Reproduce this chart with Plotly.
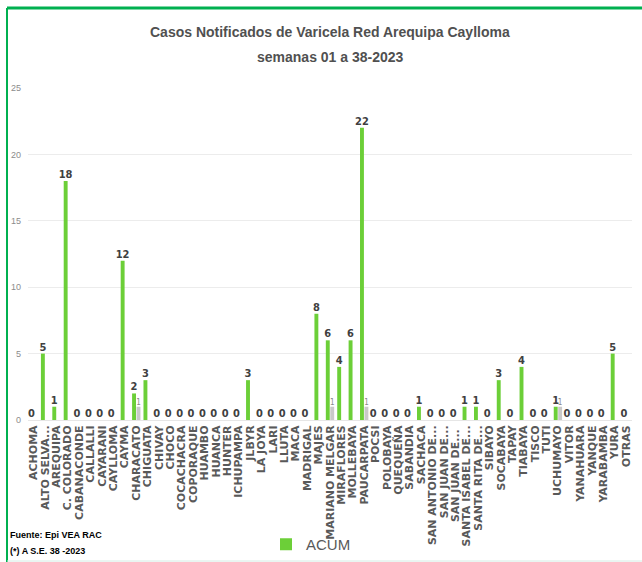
import plotly.graph_objects as go

categories = ["ACHOMA", "ALTO SELVA...", "AREQUIPA", "C. COLORADO", "CABANACONDE", "CALLALLI",
              "CAYARANI", "CAYLLOMA", "CAYMA", "CHARACATO", "CHIGUATA", "CHIVAY", "CHOCO",
              "COCACHACRA", "COPORAQUE", "HUAMBO", "HUANCA", "HUNTER", "ICHUPAMPA", "JLBYR",
              "LA JOYA", "LARI", "LLUTA", "MACA", "MADRIGAL", "MAJES", "MARIANO MELGAR",
              "MIRAFLORES", "MOLLEBAYA", "PAUCARPATA", "POCSI", "POLOBAYA", "QUEQUEÑA",
              "SABANDIA", "SACHACA", "SAN ANTONIO DE...", "SAN JUAN DE...", "SAN JUAN DE... ",
              "SANTA ISABEL DE...", "SANTA RITA DE...", "SIBAYO", "SOCABAYA", "TAPAY", "TIABAYA",
              "TISCO", "TUTI", "UCHUMAYO", "VITOR", "YANAHUARA", "YANQUE", "YARABAMBA", "YURA",
              "OTRAS"]

acum = [0, 5, 1, 18, 0, 0, 0, 0, 12, 2, 3, 0, 0, 0, 0, 0, 0, 0, 0, 3,
        0, 0, 0, 0, 0, 8, 6, 4, 6, 22, 0, 0, 0, 0, 1, 0, 0, 0, 1, 1,
        0, 3, 0, 4, 0, 0, 1, 0, 0, 0, 0, 5, 0]

second_names = ["CHARACATO", "MARIANO MELGAR", "PAUCARPATA", "UCHUMAYO"]
second_vals = [1, 1, 1, 1]
second = [None] * len(categories)
for name, v in zip(second_names, second_vals):
    second[categories.index(name)] = v

y_ticks = [0, 5, 10, 15, 20, 25]

title_line1 = "Casos Notificados de Varicela Red Arequipa Caylloma"
title_line2 = "semanas 01 a 38-2023"

# pixel helpers (plot area: x 28..632, y 88..420 in a 642x562 page)
L, R, T, B = 28, 10, 88, 142
W, H = 642, 562
PW, PH = W - L - R, H - T - B

def px(x):
    return (x - L) / PW

def py(y):
    return (H - B - y) / PH

SANS = "Liberation Sans, Arial, sans-serif"

fig = go.Figure()
fig.add_trace(go.Bar(
    x=categories, y=acum, name="ACUM",
    marker=dict(color="#6ccf38", line=dict(width=0)),
    text=[str(v) for v in acum], textposition="outside", textangle=0,
    constraintext="none",
    textfont=dict(family="DejaVu Sans Condensed", size=11, color="#404040", weight="bold"),
    cliponaxis=False,
))
fig.add_trace(go.Bar(
    x=categories, y=second, name="",
    marker=dict(color="#c9c9c9", line=dict(width=0)),
    text=["" if v is None else str(v) for v in second], textposition="outside", textangle=0,
    constraintext="none",
    textfont=dict(family="DejaVu Sans Condensed", size=8, color="#8a8a8a"),
    cliponaxis=False, showlegend=False,
))

fig.update_layout(
    width=W, height=H,
    margin=dict(l=L, r=R, t=T, b=B, autoexpand=False),
    paper_bgcolor="white", plot_bgcolor="white",
    barmode="group", bargap=0.22, bargroupgap=0.12,
    xaxis=dict(
        tickangle=-90, automargin=False, showgrid=False,
        tickmode="linear", tick0=0, dtick=1,
        showline=True, linecolor="#e6e6e6", linewidth=1, ticks="",
        tickfont=dict(family="DejaVu Sans", size=11, color="#595959", weight="bold"),
    ),
    yaxis=dict(
        range=[0, 25], tickvals=y_ticks, automargin=False,
        showgrid=True, gridcolor="#ececec", gridwidth=1, zeroline=False,
        tickfont=dict(family=SANS, size=9, color="#8c8c8c"),
        ticks="", ticklabelstandoff=6,
    ),
    legend=dict(
        orientation="h", x=px(266), xanchor="left", y=py(561), yanchor="bottom",
        font=dict(family=SANS, size=15, color="#595959"),
        bgcolor="rgba(0,0,0,0)", itemwidth=30,
    ),
    shapes=[
        dict(type="line", xref="paper", yref="paper", x0=px(7), x1=px(642), y0=py(8), y1=py(8),
             line=dict(color="#00b050", width=3)),
        dict(type="line", xref="paper", yref="paper", x0=px(7), x1=px(7), y0=py(8), y1=py(562),
             line=dict(color="#00b050", width=2)),
        dict(type="line", xref="paper", yref="paper", x0=px(7), x1=px(642), y0=py(561), y1=py(561),
             line=dict(color="#d6ece4", width=1)),
    ],
    annotations=[
        dict(text=f"<b>{title_line1}</b>", xref="paper", yref="paper",
             x=px(330), y=py(32), xanchor="center", yanchor="middle", showarrow=False,
             font=dict(family=SANS, size=14, color="#505050")),
        dict(text=f"<b>{title_line2}</b>", xref="paper", yref="paper",
             x=px(330), y=py(57), xanchor="center", yanchor="middle", showarrow=False,
             font=dict(family=SANS, size=14, color="#505050")),
        dict(text="<b>Fuente: Epi VEA RAC</b>", xref="paper", yref="paper",
             x=px(8), y=py(535), xanchor="left", yanchor="middle", showarrow=False,
             font=dict(family=SANS, size=9, color="#000000")),
        dict(text="<b>(*) A S.E. 38 -2023</b>", xref="paper", yref="paper",
             x=px(8), y=py(551), xanchor="left", yanchor="middle", showarrow=False,
             font=dict(family=SANS, size=9, color="#000000")),
    ],
)

fig.write_html("out.html", config={"displayModeBar": False},
               post_script="document.body.style.margin='0';")
